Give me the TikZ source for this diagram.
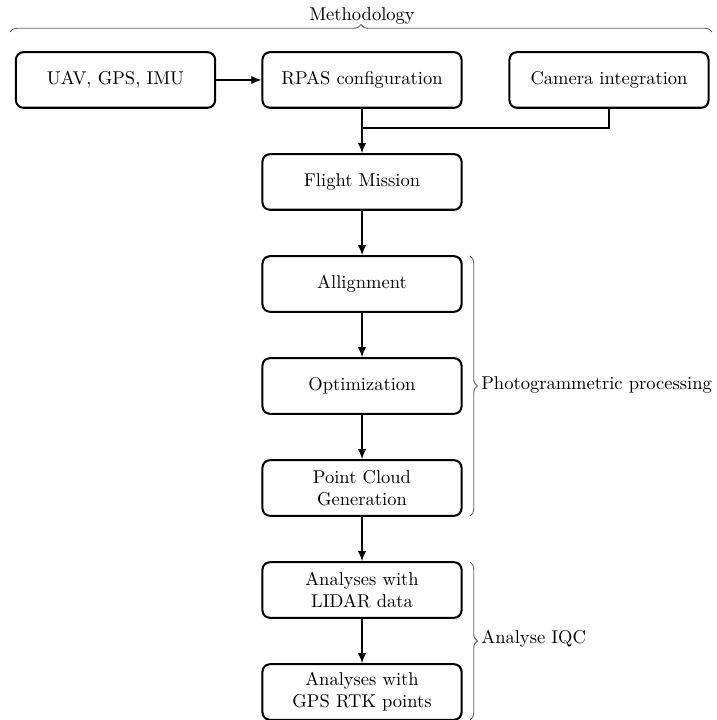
\documentclass[tikz,border=0pt]{standalone}
\usetikzlibrary{arrows.meta,decorations.pathreplacing}
\begin{document}
\begin{tikzpicture}[x=0.54pt,y=0.54pt,
  box/.style={draw, rounded corners=4pt, line width=1.1pt, minimum width=107.5pt, minimum height=30pt, inner sep=2pt, align=center, font=\normalsize},
  flow/.style={line width=0.8pt, -{Latex[length=5.5pt,width=4.5pt]}},
  joinline/.style={line width=0.6pt},
  bracestyle/.style={draw=black!60, line width=0.5pt, decorate, decoration={brace, amplitude=4pt}},
  lab/.style={inner sep=0pt, font=\normalsize}]
\useasboundingbox (0,0) rectangle (716,720);
\node[box] (uav) at (115.5,640) {UAV, GPS, IMU};
\node[box] (rpas) at (362,640) {RPAS configuration};
\node[box] (cam) at (609,640) {Camera integration};
\node[box] (fm) at (362,538) {Flight Mission};
\node[box] (al) at (362,436) {Allignment};
\node[box] (op) at (362,334) {Optimization};
\node[box] (pc) at (362,232) {Point Cloud\\Generation};
\node[box] (li) at (362,130) {Analyses with\\LIDAR data};
\node[box] (gp) at (362,28) {Analyses with\\GPS RTK points};
\coordinate (j) at (362,592);
\draw[flow] (uav) -- (rpas);
\draw[flow] (rpas) -- (fm);
\draw[joinline] (cam.south) |- (j);
\draw[flow] (fm) -- (al);
\draw[flow] (al) -- (op);
\draw[flow] (op) -- (pc);
\draw[flow] (pc) -- (li);
\draw[flow] (li) -- (gp);
\coordinate (t1) at (10,688);
\coordinate (t2) at (712,688);
\draw[bracestyle] (t1) -- (t2);
\node[lab] (meth) at (362,704) {Methodology};
\coordinate (p1) at (470,464);
\coordinate (p2) at (470,204);
\draw[bracestyle] (p1) -- (p2);
\node[lab, anchor=west] (pp) at (481,335) {Photogrammetric processing};
\coordinate (q1) at (470,158);
\coordinate (q2) at (470,0);
\draw[bracestyle] (q1) -- (q2);
\node[lab, anchor=west] (iqc) at (481,81) {Analyse IQC};
\end{tikzpicture}
\end{document}
